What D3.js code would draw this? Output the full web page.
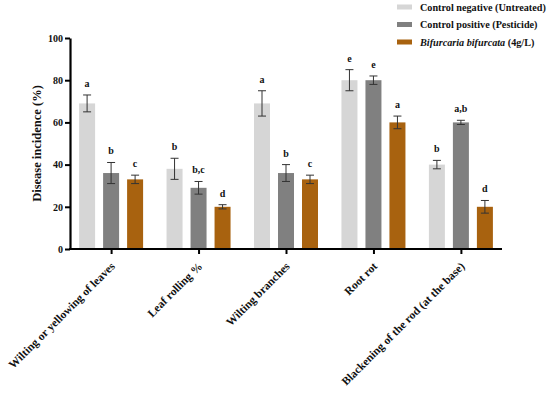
<!DOCTYPE html>
<html>
<head>
<meta charset="utf-8">
<script src="https://cdn.jsdelivr.net/npm/d3@7"></script>
<style>
  body { margin: 0; background: #fff; }
  text { font-family: "Liberation Serif", "Times New Roman", serif; font-weight: bold; fill: #111; }
</style>
</head>
<body>
<div id="chart"></div>
<script>
var categories = ["Wilting or yellowing of leaves", "Leaf rolling %", "Wilting branches", "Root rot", "Blackening of the rod (at the base)"];
var seriesNames = ["Control negative (Untreated)", "Control positive (Pesticide)", "Bifurcaria bifurcata"];
var negValues = [69, 38, 69, 80, 40];
var negErrors = [4, 5, 6, 5, 2];
var negLetters = ["a", "b", "a", "e", "b"];
var posValues = [36, 29, 36, 80, 60];
var posErrors = [5, 3, 4, 2, 1];
var posLetters = ["b", "b,c", "b", "e", "a,b"];
var bifValues = [33, 20, 33, 60, 20];
var bifErrors = [2, 1, 2, 3, 3];
var bifLetters = ["c", "d", "c", "a", "d"];
var yTicks = [0, 20, 40, 60, 80, 100];
var colors = ["#d6d6d6", "#808080", "#a8620f"];

var W = 550, H = 393;
var plotL = 70, plotR = 502, plotT = 38, plotB = 249;

var svg = d3.select("#chart").append("svg")
    .attr("width", W)
    .attr("height", H);

var x = d3.scalePoint().domain(categories).range([plotL, plotR]).padding(0.47);
var y = d3.scaleLinear().domain([0, 100]).range([plotB, plotT]);
var barW = 16, barStep = 24;

var series = [
    {vals: negValues, errs: negErrors, letters: negLetters},
    {vals: posValues, errs: posErrors, letters: posLetters},
    {vals: bifValues, errs: bifErrors, letters: bifLetters}
];

series.forEach(function(s, si) {
    var data = categories.map(function(c, i) {
        return {cat: c, v: s.vals[i], e: s.errs[i], l: s.letters[i]};
    });
    var off = (si - 1) * barStep;
    var g = svg.append("g");
    g.selectAll("rect").data(data).enter().append("rect")
        .attr("x", function(d) { return x(d.cat) + off - barW / 2; })
        .attr("y", function(d) { return y(d.v); })
        .attr("width", barW)
        .attr("height", function(d) { return y(0) - y(d.v); })
        .attr("fill", colors[si]);

    // error bars
    var eb = g.selectAll(".eb").data(data).enter().append("g")
        .attr("stroke", "#333")
        .attr("stroke-width", 1);
    eb.append("line")
        .attr("x1", function(d) { return x(d.cat) + off; })
        .attr("x2", function(d) { return x(d.cat) + off; })
        .attr("y1", function(d) { return y(d.v + d.e); })
        .attr("y2", function(d) { return y(d.v - d.e); });
    eb.append("line")
        .attr("x1", function(d) { return x(d.cat) + off - 4; })
        .attr("x2", function(d) { return x(d.cat) + off + 4; })
        .attr("y1", function(d) { return y(d.v + d.e); })
        .attr("y2", function(d) { return y(d.v + d.e); });
    eb.append("line")
        .attr("x1", function(d) { return x(d.cat) + off - 4; })
        .attr("x2", function(d) { return x(d.cat) + off + 4; })
        .attr("y1", function(d) { return y(d.v - d.e); })
        .attr("y2", function(d) { return y(d.v - d.e); });

    g.selectAll(".lbl").data(data).enter().append("text")
        .attr("x", function(d) { return x(d.cat) + off; })
        .attr("y", function(d) { return y(d.v + d.e) - 8; })
        .attr("text-anchor", "middle")
        .style("font-size", "10px")
        .text(function(d) { return d.l; });
});

// y axis
var yAxis = svg.append("g")
    .attr("transform", "translate(" + plotL + ",0)")
    .call(d3.axisLeft(y).tickValues(yTicks).tickSize(5).tickSizeOuter(0));
yAxis.select(".domain").attr("stroke", "#000").attr("stroke-width", 2.2);
yAxis.selectAll(".tick line").attr("stroke", "#000").attr("stroke-width", 2);
yAxis.selectAll(".tick text")
    .attr("x", -7)
    .style("font-size", "10px")
    .style("font-family", "Liberation Serif, serif")
    .style("font-weight", "bold")
    .attr("fill", "#111");

// x axis
var xAxis = svg.append("g")
    .attr("transform", "translate(0," + plotB + ")")
    .call(d3.axisBottom(x).tickSize(5).tickSizeOuter(0));
xAxis.select(".domain").attr("stroke", "#000").attr("stroke-width", 2.2)
    .attr("d", "M" + (plotL - 1) + ",0H" + plotR);
xAxis.selectAll(".tick line").attr("stroke", "#000").attr("stroke-width", 2);
xAxis.selectAll(".tick text")
    .attr("x", 0).attr("y", 0).attr("dy", 0)
    .attr("transform", "translate(4,18) rotate(-45)")
    .attr("text-anchor", "end")
    .style("font-size", "11.5px")
    .style("font-family", "Liberation Serif, serif")
    .style("font-weight", "bold")
    .attr("fill", "#111");

// y label
svg.append("text")
    .attr("transform", "translate(41," + ((plotT + plotB) / 2) + ") rotate(-90)")
    .attr("text-anchor", "middle")
    .style("font-size", "12.5px")
    .text("Disease incidence (%)");

// legend
var legend = svg.append("g").attr("transform", "translate(397,0)");
seriesNames.forEach(function(n, i) {
    var row = legend.append("g").attr("transform", "translate(0," + (7 + i * 17.5) + ")");
    row.append("rect").attr("x", 0).attr("y", -2.5).attr("width", 15).attr("height", 5).attr("fill", colors[i]);
    var t = row.append("text").attr("x", 23).attr("y", 3.5).style("font-size", "10.2px");
    if (i === 2) {
        t.append("tspan").style("font-style", "italic").text(n);
        t.append("tspan").text(" (4g/L)");
    } else {
        t.text(n);
    }
});
</script>
</body>
</html>
